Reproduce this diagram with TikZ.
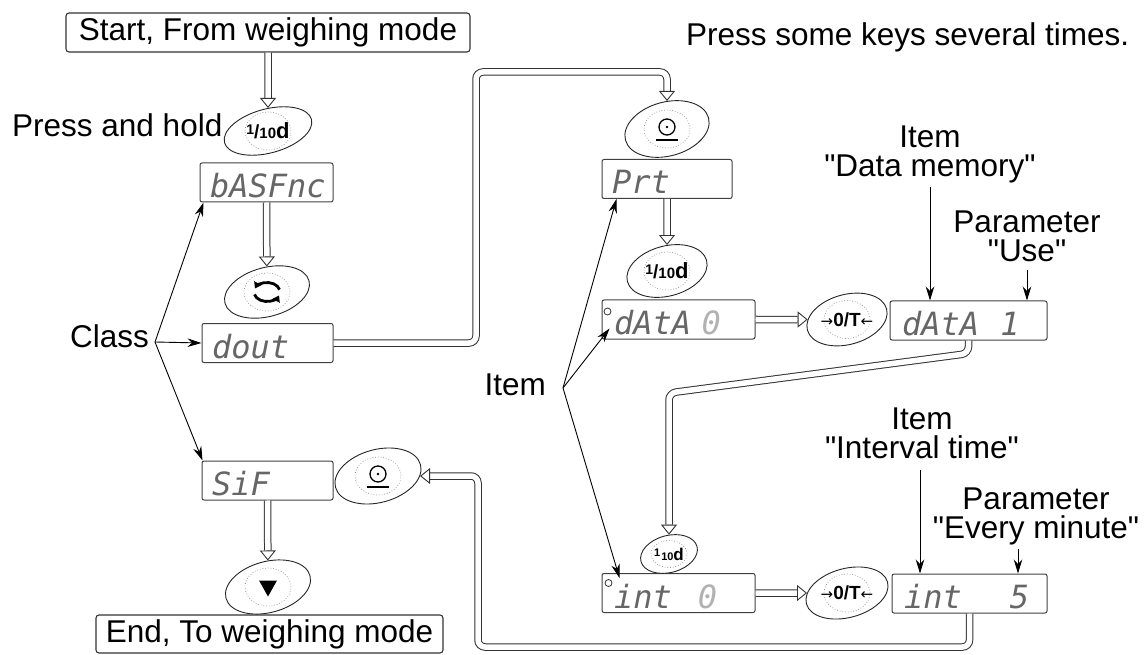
\documentclass[tikz,border=0pt]{standalone}
\usepackage{fontspec}
\setmainfont{Liberation Sans}[Ligatures=TeXOff]
\newfontfamily\segfont{DejaVu Sans Mono}
\newfontfamily\arrfont{DejaVu Sans}
\usetikzlibrary{shapes.geometric,arrows.meta,calc}
\newcommand\lblfont{\fontsize{31.5}{29}\selectfont}
\newcommand\segtxt{\segfont\itshape\fontsize{32}{32}\selectfont}
\newcommand\qq{\symbol{34}}
\newcommand\tenthd{{\bfseries\raisebox{4.5pt}{\fontsize{14}{14}\selectfont 1}{\fontsize{19}{19}\selectfont /}{\fontsize{15}{15}\selectfont 10}{\fontsize{22}{22}\selectfont d}}}
\newcommand\tenthdsmall{{\bfseries\raisebox{3.5pt}{\fontsize{11}{11}\selectfont 1}\kern1pt{\fontsize{11}{11}\selectfont 10}{\fontsize{17}{17}\selectfont d}}}
\newcommand\zerot{{\bfseries\fontsize{19}{19}\selectfont{\arrfont\mdseries\fontsize{15}{15}\selectfont →}0/T{\arrfont\mdseries\fontsize{15}{15}\selectfont ←}}}
\newcommand\chan[1]{\draw[chanline] #1; \draw[chantip] #1;}
\begin{document}
\begin{tikzpicture}[x=1pt,y=-1pt,
  lbl/.style={font=\lblfont, inner sep=0pt},
  lbl2/.style={font=\lblfont, inner sep=0pt, align=center, anchor=north},
  frame/.style={draw=black!80, line width=1.1pt, rounded corners=3pt, inner sep=0pt, font=\lblfont},
  disp/.style={draw=black!75, line width=1pt, rounded corners=2pt, inner xsep=10pt, inner ysep=0pt, minimum height=39pt, text height=30pt, text depth=0pt, align=left, font=\segtxt, text=black!60},
  key/.style={ellipse, draw=black!85, line width=0.9pt, fill=white, inner sep=0pt, rotate=15},
  ring/.style={ellipse, draw=black!45, dotted, line width=0.7pt, inner sep=0pt, minimum width=46pt, minimum height=38pt},
  keytxt/.style={inner sep=0pt},
  thinarr/.style={draw=black, line width=0.9pt, -{Stealth[length=14pt,width=8.5pt]}},
  chanline/.style={draw=black!80, line width=1pt, double=white, double distance=5.5pt, rounded corners=7pt, shorten >=10pt},
  chantip/.style={draw=white, line width=0.8pt, rounded corners=7pt, -{Triangle[width=16pt,length=10pt,fill=white,color=black!80,line width=0.9pt]}},
  ind/.style={circle, draw=black!80, line width=0.8pt, inner sep=0pt, minimum size=7pt}
]
\useasboundingbox (0,0) rectangle (1144,655);

% ---------- framed start / end ----------
\node[frame, minimum width=404pt, minimum height=39pt] (start) at (268,32.5) {Start, From weighing mode};
\node[frame, minimum width=347pt, minimum height=38pt] (end) at (269.5,634) {End, To weighing mode};

% ---------- free texts ----------
\node[lbl, anchor=base west] (hint) at (686,46) {Press some keys several times.};
\node[lbl, anchor=base west] (hold) at (12,137) {Press and hold};
\node[lbl, anchor=base east] (class) at (149,348) {Class};
\node[lbl, anchor=base east] (item) at (546,395) {Item};
\node[lbl2] (l1) at (930,125.5) {Item\\\qq Data memory\qq};
\node[lbl2] (l2) at (1027,210.5) {Parameter\\\qq Use\qq};
\node[lbl2] (l3) at (922,407.5) {Item\\\qq Interval time\qq};
\node[lbl2] (l4) at (1036,487.5) {Parameter\\\qq Every minute\qq};

% ---------- displays ----------
\node[disp, minimum width=133pt, text width=113pt] (bASF) at (266.5,182.5) {bASFnc};
\node[disp, minimum width=131pt, text width=111pt] (dout) at (267.5,343) {dout};
\node[disp, minimum width=131pt, text width=111pt] (SiF) at (267.5,480.5) {SiF};
\node[disp, minimum width=130pt, text width=110pt] (Prt) at (667,179) {Prt};
\node[disp, minimum width=153pt, text width=129pt, inner xsep=12pt] (dAtA0) at (678.5,319.5) {dAtA {\color{black!30}0}};
\node[disp, minimum width=157pt, text width=133pt, inner xsep=12pt] (dAtA1) at (968.5,320.5) {dAtA\ \ 1};
\node[disp, minimum width=153pt, text width=129pt, inner xsep=12pt] (int0) at (678.5,593) {int\hspace{26pt}{\color{black!30}0}};
\node[disp, minimum width=155pt, text width=131pt, inner xsep=12pt] (int5) at (969.5,593.5) {int\hspace{48pt}5};
\node[ind] (o0) at ($(dAtA0.north west)+(6,12)$) {};
\node[ind] (o1) at ($(int0.north west)+(7,10)$) {};

% ---------- keys ----------
\node[key, minimum width=90pt, minimum height=44pt] (k1) at (268,131) {};
\node[key, minimum width=87pt, minimum height=49pt] (k2) at (267,292) {};
\node[key, minimum width=86pt, minimum height=54pt] (k3) at (667,129) {};
\node[key, minimum width=82pt, minimum height=50pt] (k4) at (667,271) {};
\node[key, minimum width=82pt, minimum height=50pt] (k5) at (847,319.5) {};
\node[key, minimum width=58pt, minimum height=37pt] (k6) at (669,554) {};
\node[key, minimum width=84pt, minimum height=49pt] (k7) at (847,593) {};
\node[key, minimum width=88pt, minimum height=53pt] (k8) at (378,476) {};
\node[key, minimum width=87pt, minimum height=51pt] (k9) at (268,587) {};
\foreach \k in {k1,k2,k3,k4,k5,k7,k8,k9}{\node[ring] (\k r) at (\k) {};}
\node[ring, minimum width=36pt, minimum height=27pt] (k6r) at (k6) {};

% key faces
\node[keytxt] (k1t) at (k1) {\tenthd};
\node[keytxt] (k4t) at (k4) {\tenthd};
\node[keytxt] (k6t) at (k6) {\tenthdsmall};
\node[keytxt] (k5t) at (k5) {\zerot};
\node[keytxt] (k7t) at (k7) {\zerot};
\draw[line width=2.8pt, -{Triangle[length=6pt,width=8pt]}] ($(k2)+(-15:13 and 9.5)$) arc[start angle=-15, end angle=-158, x radius=13, y radius=9.5];
\draw[line width=2.8pt, -{Triangle[length=6pt,width=8pt]}] ($(k2)+(165:13 and 9.5)$) arc[start angle=165, end angle=22, x radius=13, y radius=9.5];
\foreach \k in {k3,k8}{
  \draw[line width=1.3pt] ($(\k)+(0,-2)$) circle[radius=8pt];
  \fill ($(\k)+(0,-2)$) circle[radius=1.4pt];
  \draw[line width=1.8pt] ($(\k)+(-11,11)$) -- ($(\k)+(11,11)$);
}
\fill ($(k9)+(-9,-6.5)$) -- ($(k9)+(9,-6.5)$) -- ($(k9)+(0,9.5)$) -- cycle;

% ---------- channels ----------
\coordinate (c1) at (476,72);
\coordinate (c6) at (669,393);
\coordinate (c2) at (478,647);
\chan{(start.south) -- (k1)}
\chan{(bASF.south) -- (k2)}
\chan{(SiF.south) -- (k9)}
\chan{(dout.east) -| (c1) -| (k3)}
\chan{(Prt.south) -- (k4)}
\chan{(dAtA0.east) -- (k5)}
\chan{(dAtA1.south) -- ++(0,13) -- (c6) -- (k6)}
\chan{(int0.east) -- (k7)}
\chan{(int5.south) |- (c2) |- (k8)}

% ---------- pointer arrows ----------
\coordinate (cv) at (155,342);
\draw[thinarr] (cv) -- ($(bASF.south west)+(4,0)$);
\draw[thinarr] (cv) -- (dout.west);
\draw[thinarr] (cv) -- ($(SiF.north west)+(1,0)$);
\coordinate (iv) at (563,388);
\draw[thinarr] (iv) -- ($(Prt.south west)+(15,0)$);
\draw[thinarr] (iv) -- ($(dAtA0.south west)+(8,-11)$);
\draw[thinarr] (iv) -- ($(int0.north west)+(18,5)$);
\coordinate (a1) at (930,187);
\coordinate (a2) at (1027,270);
\coordinate (a3) at (920,470);
\coordinate (a4) at (1018,549);
\draw[thinarr] (a1) -- (a1 |- dAtA1.north);
\draw[thinarr] (a2) -- (a2 |- dAtA1.north);
\draw[thinarr] (a3) -- (a3 |- int5.north);
\draw[thinarr] (a4) -- (a4 |- int5.north);
\end{tikzpicture}
\end{document}
